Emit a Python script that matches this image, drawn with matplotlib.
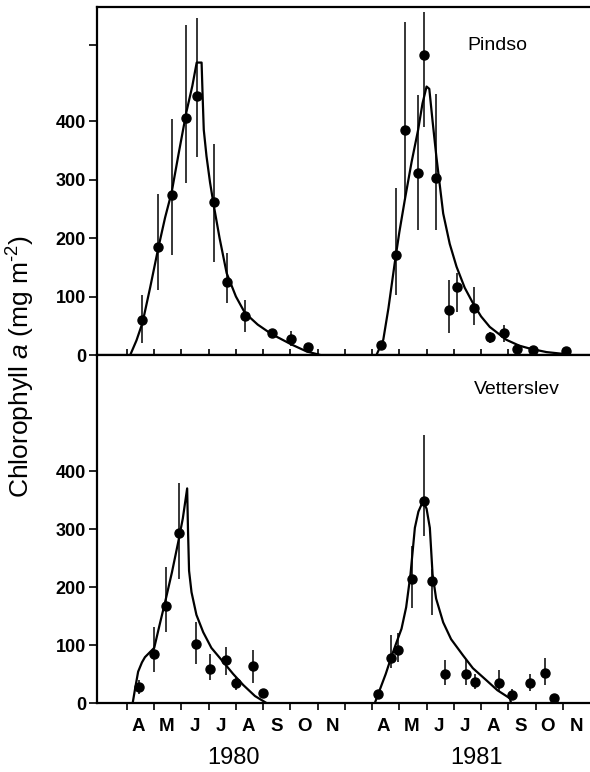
import matplotlib
matplotlib.use('Agg')
import matplotlib.pyplot as plt
from matplotlib.ticker import FixedLocator, FixedFormatter, NullFormatter
import matplotlib.transforms as mtransforms

plt.rcParams['font.family'] = ['Liberation Sans', 'DejaVu Sans']
plt.rcParams['mathtext.fontset'] = 'custom'
plt.rcParams['mathtext.rm'] = 'Liberation Sans'
plt.rcParams['mathtext.it'] = 'Liberation Sans:italic'

# x in month units: 0 = 1 Mar 1980 ... 9 = 1 Dec 1980, 10 = 1 Apr 1981 ... 18 = 1 Dec 1981
# ---------------- Pindso ----------------
p80_x = [1.57, 2.15, 2.64, 3.16, 3.56, 4.19, 4.68, 5.35, 6.31, 7.04, 7.65]
p80_y = [59, 185, 273, 405, 443, 261, 125, 67, 37, 28, 14]
p80_lo = [20, 111, 171, 294, 339, 159, 89, 39, 37, 15, 14]
p80_hi = [102, 276, 404, 564, 576, 360, 174, 94, 37, 41, 14]
p80_cx = [1.12, 1.35, 1.57, 1.85, 2.15, 2.40, 2.64, 2.90, 3.18, 3.40, 3.56, 3.74,
          3.78, 3.82, 3.92, 4.05, 4.19, 4.40, 4.66, 5.00, 5.33, 5.80, 6.30, 7.04, 7.60, 8.10]
p80_cy = [0, 25, 55, 115, 183, 235, 278, 345, 415, 460, 500, 500,
          440, 385, 340, 295, 255, 200, 140, 100, 72, 52, 36, 18, 6, 0]

p81_x = [10.34, 10.87, 11.20, 11.69, 11.91, 12.36, 12.83, 13.13, 13.74, 14.34, 14.85, 15.32, 15.91, 17.11]
p81_y = [17, 171, 385, 311, 513, 303, 77, 116, 80, 30, 37, 11, 8, 6]
p81_lo = [17, 103, 265, 214, 390, 214, 37, 74, 51, 20, 23, 11, 8, 6]
p81_hi = [17, 285, 570, 444, 587, 447, 128, 140, 116, 40, 51, 11, 8, 6]
p81_cx = [10.16, 10.41, 10.60, 10.83, 11.00, 11.20, 11.45, 11.69, 11.85, 12.00, 12.10,
          12.22, 12.36, 12.61, 12.85, 13.10, 13.40, 13.71, 14.00, 14.32, 14.93, 15.40,
          15.79, 16.40, 17.00, 17.20]
p81_cy = [0, 26, 80, 157, 210, 265, 330, 385, 430, 459, 455,
          400, 339, 242, 190, 151, 115, 88, 66, 48, 26, 16,
          11, 5, 2, 0]

# ---------------- Vetterslev ----------------
v80_x = [1.44, 2.00, 2.43, 2.90, 3.53, 4.04, 4.63, 4.99, 5.61, 5.99]
v80_y = [28, 85, 167, 293, 101, 59, 75, 34, 64, 17]
v80_lo = [16, 54, 122, 213, 68, 39, 48, 22, 34, 17]
v80_hi = [40, 131, 234, 379, 139, 85, 97, 45, 91, 17]
v80_cx = [1.21, 1.30, 1.41, 1.55, 1.66, 1.85, 2.00, 2.20, 2.43, 2.65, 2.88, 3.05, 3.21,
          3.24, 3.28, 3.37, 3.55, 3.80, 4.10, 4.53, 4.90, 5.27, 5.70, 6.12]
v80_cy = [0, 25, 54, 70, 79, 88, 95, 135, 180, 225, 277, 318, 370,
          300, 228, 191, 152, 122, 95, 71, 50, 31, 12, 0]

v81_x = [10.22, 10.71, 10.96, 11.45, 11.91, 12.21, 12.69, 13.43, 13.77, 14.65, 15.14, 15.79, 16.34, 16.67]
v81_y = [15, 77, 91, 213, 349, 211, 50, 50, 37, 34, 14, 35, 51, 8]
v81_lo = [15, 60, 71, 163, 288, 151, 31, 31, 25, 19, 5, 20, 31, 8]
v81_hi = [15, 117, 120, 271, 462, 231, 74, 74, 50, 57, 24, 50, 77, 8]
v81_cx = [10.10, 10.30, 10.50, 10.71, 10.90, 11.08, 11.25, 11.41, 11.57, 11.70, 11.87,
          12.00, 12.12, 12.22, 12.35, 12.61, 12.90, 13.34, 13.70, 14.20, 14.60, 15.06, 15.10]
v81_cy = [0, 25, 50, 80, 105, 128, 165, 222, 302, 330, 348,
          335, 302, 222, 180, 139, 110, 82, 60, 39, 22, 8, 0]

month_pos = [1.4, 2.45, 3.5, 4.45, 5.45, 6.5, 7.5, 8.55,
             10.4, 11.45, 12.45, 13.4, 14.45, 15.45, 16.45, 17.5]
month_labels = ['A', 'M', 'J', 'J', 'A', 'S', 'O', 'N',
                'A', 'M', 'J', 'J', 'A', 'S', 'O', 'N']
month_ticks = list(range(1, 18))
years = ['1980', '1981']
year_pos = [4.9, 13.85]
yticks_top = [0, 100, 200, 300, 400, 530]
ytick_labels_top = ['0', '100', '200', '300', '400', '']
yticks_bot = [0, 100, 200, 300, 400]
ytick_labels_bot = ['0', '100', '200', '300', '400']

fig = plt.figure(figsize=(5.9, 7.72), dpi=100)
L = 97 / 590
ax1 = fig.add_axes([L, 1 - 355 / 772, 1 - L, (355 - 7) / 772])
ax2 = fig.add_axes([L, 1 - 703 / 772, 1 - L, (703 - 355) / 772])


def draw(ax, xs, ys, lo, hi, cx, cy):
    ax.plot(cx, cy, color='black', lw=1.6, solid_joinstyle='round')
    err = [[y - l for y, l in zip(ys, lo)], [h - y for y, h in zip(ys, hi)]]
    ax.errorbar(xs, ys, yerr=err, fmt='o', color='black', ms=6.5,
                elinewidth=1.1, capsize=0)


draw(ax1, p80_x, p80_y, p80_lo, p80_hi, p80_cx, p80_cy)
draw(ax1, p81_x, p81_y, p81_lo, p81_hi, p81_cx, p81_cy)
draw(ax2, v80_x, v80_y, v80_lo, v80_hi, v80_cx, v80_cy)
draw(ax2, v81_x, v81_y, v81_lo, v81_hi, v81_cx, v81_cy)

for ax in (ax1, ax2):
    ax.set_xlim(-0.1, 18.0)
    ax.spines['right'].set_visible(False)
    for s in ('left', 'bottom', 'top'):
        ax.spines[s].set_linewidth(1.6)
    ax.tick_params(axis='y', direction='out', length=6, width=1.2, pad=2,
                   labelsize=13)

ax1.set_ylim(0, 595)
ax2.set_ylim(0, 600)

ax1.yaxis.set_major_locator(FixedLocator(yticks_top))
ax1.yaxis.set_major_formatter(FixedFormatter(ytick_labels_top))
ax2.yaxis.set_major_locator(FixedLocator(yticks_bot))
ax2.yaxis.set_major_formatter(FixedFormatter(ytick_labels_bot))

ax1.xaxis.set_major_locator(FixedLocator(month_ticks))
ax1.xaxis.set_major_formatter(NullFormatter())
ax1.tick_params(axis='x', direction='in', length=4, width=1.2)

ax2.xaxis.set_major_locator(FixedLocator(month_ticks))
ax2.xaxis.set_major_formatter(NullFormatter())
ax2.xaxis.set_minor_locator(FixedLocator(month_pos))
ax2.xaxis.set_minor_formatter(FixedFormatter(month_labels))
ax2.tick_params(axis='x', which='major', direction='out', length=5, width=1.2)
ax2.tick_params(axis='x', which='minor', length=0, pad=11, labelsize=13.5)

for ax in (ax1, ax2):
    for lab in ax.get_yticklabels() + ax.get_xticklabels(which='minor'):
        lab.set_fontweight('bold')

ax1.text(14.6, 530, 'Pindso', fontsize=14, ha='center', va='center')
ax2.text(15.3, 540, 'Vetterslev', fontsize=14, ha='center', va='center')

trans = mtransforms.blended_transform_factory(ax2.transData, ax2.transAxes)
for yp, yl in zip(year_pos, years):
    ax2.text(yp, -0.158, yl, fontsize=17, ha='center', va='center', transform=trans)

fig.text(0.036, 1 - 367 / 772,
         'Chlorophyll $\\mathit{a}$ (mg m$^{\\mathregular{\u2010 2}}$)',
         fontsize=19, rotation=90, ha='center', va='center')

fig.savefig('out.png', dpi=100)
